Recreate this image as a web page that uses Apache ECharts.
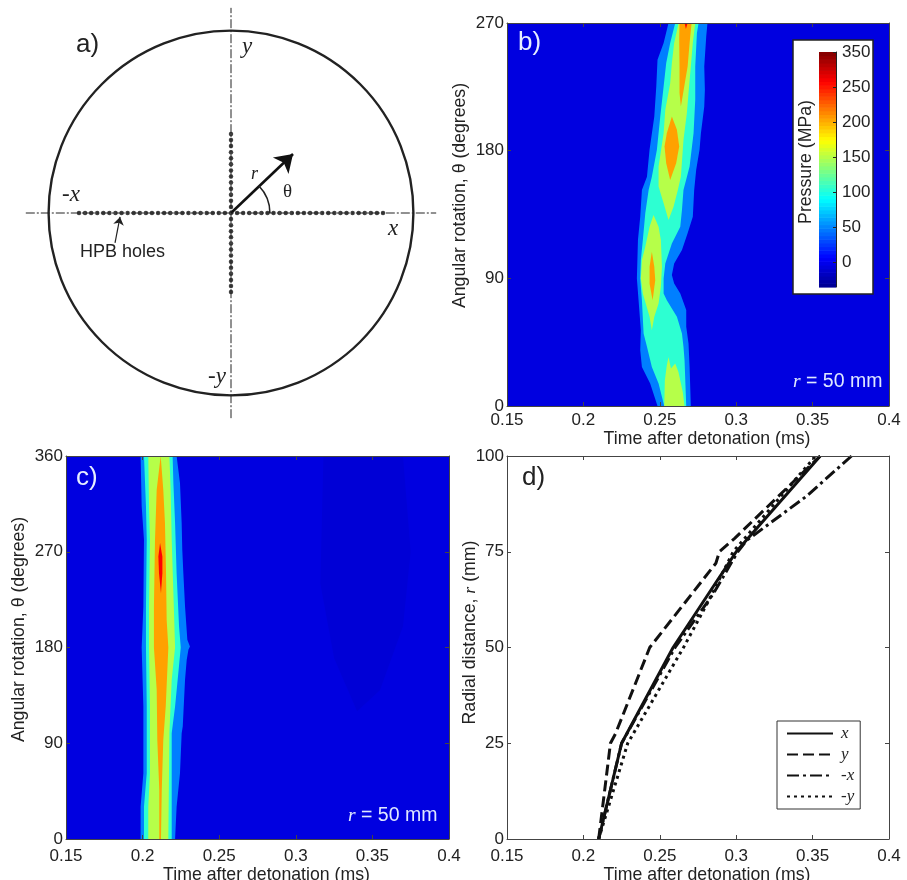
<!DOCTYPE html>
<html><head><meta charset="utf-8">
<style>html,body{margin:0;padding:0;background:#fff}#c{width:907px;height:880px}</style>
<script src="https://cdn.jsdelivr.net/npm/echarts@6/dist/echarts.min.js"></script>
</head><body><div id="c"></div>
<script>
// ---------- Panel a: test-plate schematic (mm) ----------
const plateRadius = 120;
const crossReach = 135;
const xHoles = [4,8,12,16,20,24,28,32,36,40,44,48,52,56,60,64,68,72,76,80,84,88,92,96,100];
const yHoles = [4,8,12,16,20,24,28,32,36,40,44,48,52];
const radiusArrow = [[0,0],[40.8,38.8]];
const holesArrow = [[-76.3,-19.7],[-73,-2.6]];
const thetaArc = [[0,0,25.6,0,44]];

// ---------- Panels b, c: pressure contours, [time ms, theta deg] ----------
const timeTicks = ['0.15','0.2','0.25','0.3','0.35','0.4'];
const levelBackground = -5.5, levelDark = -9, level50 = 48, level100 = 105, level150 = 150, level200 = 205, level250 = 258;

const bField = [[0.15,0],[0.4,0],[0.4,270],[0.15,270]];
const bBand50 = [[.2812,270],[.2804,260.6],[.2791,239.4],[.2795,222.9],[.2791,211.2],[.2769,192.3],[.276,180.6],[.2738,166.4],[.2725,152.3],[.2716,133.5],[.2682,121.7],[.2645,109.9],[.2594,100.5],[.2579,92.3],[.2594,86.4],[.2634,79.3],[.2673,67.6],[.2673,55.8],[.2688,44],[.2695,27.5],[.2703,0],[.2485,0],[.2437,15.8],[.2383,27.5],[.2372,39.3],[.2376,53.4],[.2361,74.6],[.235,89.9],[.2357,117],[.2372,133.5],[.2383,152.3],[.2416,161.7],[.2433,180.6],[.2464,204.1],[.2477,225.3],[.2485,244.1],[.2525,255.9],[.2557,270]];
const bBand100 = [[.2754,270],[.2743,262.9],[.2732,239.4],[.2732,215.9],[.2721,192.3],[.2695,168.8],[.2655,152.3],[.2645,138.2],[.2634,126.4],[.2579,114.6],[.2536,100.5],[.2525,89.9],[.2525,79.3],[.2546,74.6],[.2612,62.9],[.2645,51.1],[.2655,41.7],[.2662,32.2],[.2673,0],[.2529,0],[.2492,15.8],[.2448,27.5],[.2416,41.7],[.2394,51.1],[.2383,74.6],[.2372,89.9],[.2376,102.9],[.2389,117],[.2405,135.8],[.2427,152.3],[.2448,161.7],[.2481,180.6],[.2503,204.1],[.2525,225.3],[.2542,241.8],[.2568,255.9],[.2601,270]];
const bBand150Top = [[.2732,270],[.2716,255.9],[.2703,239.4],[.2688,220.6],[.2677,206.4],[.2655,187.6],[.2638,161.7],[.2618,152.3],[.259,140.5],[.2557,131.1],[.2525,142.9],[.2492,154.7],[.2492,168.8],[.2525,192.3],[.2536,208.8],[.2568,227.6],[.2579,241.8],[.2594,255.9],[.2623,270]];
const bBand150Mid = [[.2459,134.6],[.2492,126.4],[.2507,117],[.2514,98.2],[.2507,84],[.2492,72.3],[.2464,62.9],[.2448,53.4],[.2433,62.9],[.2389,79.3],[.2376,89.9],[.2383,102.9],[.2405,112.3],[.2433,126.4]];
const bBand150Low = [[.2529,0],[.2533,18],[.2545,28],[.2557,34.6],[.2573,26.4],[.2601,30],[.2622,24],[.265,10],[.2662,0]];
const bBand200Top = [[.2629,270],[.2708,270],[.2695,255.9],[.2682,239.4],[.266,225.3],[.2638,211.2],[.2629,220.6],[.2629,239.4],[.2627,258.2]];
const bBand200Mid = [[.2579,204.1],[.2612,194.7],[.2627,182.9],[.2607,171.1],[.2568,159.4],[.2542,171.1],[.2531,182.9],[.2546,192.3]];
const bBand200Low = [[.2448,108.8],[.2464,98.2],[.247,88.7],[.2453,74.6],[.2433,86.4],[.2433,98.2]];
const bBand250 = [[.2662,270],[.2682,270],[.2671,265.8]];

const cField = [[0.15,0],[0.4,0],[0.4,360],[0.15,360]];
const cDark = [[.318,360],[.37,360],[.375,270],[.37,200],[.355,140],[.34,120],[.325,170],[.316,240]];
const cBand50 = [[.2222,360],[.2244,334.6],[.2255,297],[.2259,271.9],[.2266,249.9],[.2277,218.6],[.2292,187.2],[.2309,181],[.2299,178],[.2288,168.4],[.2277,149.6],[.2262,105.7],[.2255,99.4],[.2244,61.8],[.2222,30.4],[.2212,0],[.1987,0],[.1987,30.4],[.2005,61.8],[.2005,124.5],[.1994,180],[.2005,218.6],[.2009,281.3],[.1994,312.7],[.1987,360]];
const cBand100 = [[.2196,360],[.2201,334.6],[.2212,297],[.2222,249.9],[.2238,199.8],[.2249,180],[.2233,155.9],[.2212,124.5],[.219,99.4],[.219,0],[.2009,0],[.2009,30.4],[.2027,61.8],[.2027,124.5],[.2022,180],[.2022,218.6],[.2027,281.3],[.2022,312.7],[.2009,360]];
const cBand150 = [[.2175,360],[.2183,328.3],[.219,281.3],[.2201,231],[.2212,180],[.219,149.6],[.2175,99.4],[.2168,0],[.2037,0],[.2037,30.4],[.2048,61.8],[.2048,124.5],[.2042,180],[.2042,218.6],[.2048,281.3],[.2042,312.7],[.2037,360]];
const cBand200 = [[.2118,360],[.2092,328.3],[.2081,281.3],[.2074,218.6],[.2074,180],[.2092,140.2],[.2096,93.1],[.2109,46.1],[.2109,0],[.212,0],[.2125,46.1],[.2135,93.1],[.2151,124.5],[.2168,180],[.2157,206],[.2153,249.9],[.2146,297],[.2135,328.3]];
const cBand250 = [[.2114,278.2],[.2129,265.6],[.2129,249.9],[.212,231.1],[.2107,249.9],[.2103,265.6]];

const bContours = [[levelBackground,bField],[level50,bBand50],[level100,bBand100],[level150,bBand150Top],[level150,bBand150Mid],[level150,bBand150Low],[level200,bBand200Top],[level200,bBand200Mid],[level200,bBand200Low],[level250,bBand250]];
const cContours = [[levelBackground,cField],[levelDark,cDark],[level50,cBand50],[level100,cBand100],[level150,cBand150],[level200,cBand200],[level250,cBand250]];

// ---------- Colour bar ----------
const barMin = -35.7, barMax = 300;
const barTickValues = [0,50,100,150,200,250,300];
const barTickLabels = ['0','50','100','150','200','250','350'];

// ---------- Panel d: arrival time [ms, r mm] ----------
const seriesX = [[.21,0],[.225,25],[.2587,50],[.3,75],[.355,100]];
const seriesY = [[.21,0],[.2177,25],[.221,27.5],[.2434,50],[.2867,72],[.289,75],[.299,78.5],[.355,100]];
const seriesNegX = [[.21,0],[.225,25],[.26,50],[.285,64],[.301,75],[.307,78],[.346,89.5],[.3755,100]];
const seriesNegY = [[.21,0],[.229,25],[.2655,50],[.2817,62],[.298,75],[.352,100]];

// ---------- helpers ----------
function lerp(a,b,t){return a+(b-a)*t}
function jet(f){
  const stops=[[0,[0,0,143]],[.125,[0,0,255]],[.375,[0,255,255]],[.625,[255,255,0]],[.875,[255,0,0]],[1,[128,0,0]]];
  f=Math.max(0,Math.min(1,f));
  for(let i=1;i<stops.length;i++){
    if(f<=stops[i][0]){
      const t=(f-stops[i-1][0])/(stops[i][0]-stops[i-1][0]);
      const c=stops[i-1][1].map((v,k)=>Math.round(lerp(v,stops[i][1][k],t)));
      return 'rgb('+c.join(',')+')';
    }
  }
}
const levelColor = v => jet((v-barMin)/(barMax-barMin));
const sans='"Liberation Sans",Arial,sans-serif', serif='"Liberation Serif","Times New Roman",serif';
const ink='#222';
const fontSize=17, nameSize=17.7;

function contourSeries(contours,gridAxis){
  return {type:'custom',xAxisIndex:gridAxis,yAxisIndex:gridAxis,silent:true,z:2,clip:true,
    data:contours.map((c,i)=>[i,c[0]]),
    renderItem:(p,api)=>{
      const item=contours[p.dataIndex];
      return {type:'polygon',shape:{points:item[1].map(q=>api.coord(q))},
        style:{fill:levelColor(item[0]),stroke:null}};
    }};
}

function mainX(g,name,extra){
  return {gridIndex:g,type:'value',min:.15,max:.4,interval:.05,z:4,position:'bottom',
    name,nameLocation:'middle',nameGap:24+extra,nameMoveOverlap:false,
    nameTextStyle:{color:ink,fontFamily:sans,fontSize:nameSize,padding:[0,0,0,18]},
    axisLine:{show:true,onZero:false,lineStyle:{color:'#444',width:1}},
    axisTick:{show:true,inside:true,length:4,lineStyle:{color:'#444'}},
    splitLine:{show:false},
    axisLabel:{color:ink,fontFamily:sans,fontSize,margin:6+extra,hideOverlap:false,showMinLabel:true,showMaxLabel:true,
      formatter:v=>timeTicks[Math.round((v-.15)/.05)]}};
}
function mirrorX(g){
  return {gridIndex:g,type:'value',min:.15,max:.4,interval:.05,z:4,position:'top',
    axisLine:{show:true,onZero:false,lineStyle:{color:'#444',width:1}},
    axisTick:{show:true,inside:true,length:4,lineStyle:{color:'#444'}},
    axisLabel:{show:false},splitLine:{show:false}};
}
function mainY(g,max,interval,name,gap,shift){
  return {gridIndex:g,type:'value',min:0,max,interval,z:4,position:'left',
    name,nameLocation:'middle',nameGap:gap,nameRotate:90,nameMoveOverlap:false,
    nameTextStyle:{color:ink,fontFamily:sans,fontSize:nameSize,padding:[0,0,0,shift],rich:{i:{fontFamily:serif,fontStyle:'italic',fontSize:nameSize,color:ink}}},
    axisLine:{show:true,onZero:false,lineStyle:{color:'#444',width:1}},
    axisTick:{show:true,inside:true,length:4,lineStyle:{color:'#444'}},
    splitLine:{show:false},
    axisLabel:{color:ink,fontFamily:sans,fontSize,margin:3,hideOverlap:false,showMinLabel:true,showMaxLabel:true}};
}
function mirrorY(g,max,interval){
  return {gridIndex:g,type:'value',min:0,max,interval,z:4,position:'right',
    axisLine:{show:true,onZero:false,lineStyle:{color:'#444',width:1}},
    axisTick:{show:true,inside:true,length:4,lineStyle:{color:'#444'}},
    axisLabel:{show:false},splitLine:{show:false}};
}
function label(text,x,y,font,fill,extra){
  return {type:'text',z:20,silent:true,style:Object.assign({text,x,y,font,fill:fill||ink,align:'left',verticalAlign:'middle'},extra||{})};
}
const rEq = {rich:{i:{fontFamily:serif,fontStyle:'italic',fontSize:19.5,fill:'#dfe8ff',color:'#dfe8ff'}}};

const option = {
  animation:false,backgroundColor:'#fff',
  grid:[
    {left:25.8,top:7.8,width:410.4,height:410.4,outerBoundsMode:'none'},
    {left:507,top:23,width:382,height:383,outerBoundsMode:'none'},
    {left:66,top:456,width:383,height:383,outerBoundsMode:'none'},
    {left:507,top:456,width:382,height:383,outerBoundsMode:'none'},
    {left:819,top:52,width:17,height:235,outerBoundsMode:'none'}
  ],
  xAxis:[
    {gridIndex:0,type:'value',min:-crossReach,max:crossReach,show:false},
    mainX(1,'Time after detonation (ms)',0),
    mainX(2,'Time after detonation (ms)',3),
    mainX(3,'Time after detonation (ms)',3),
    {gridIndex:4,type:'value',min:0,max:1,show:false},
    mirrorX(1),mirrorX(2),mirrorX(3)
  ],
  yAxis:[
    {gridIndex:0,type:'value',min:-crossReach,max:crossReach,show:false},
    mainY(1,270,90,'Angular rotation, θ (degrees)',38,38),
    mainY(2,360,90,'Angular rotation, θ (degrees)',38,36),
    mainY(3,100,25,'Radial distance, {i|r} (mm)',28,30),
    {gridIndex:4,type:'value',min:barMin,max:barMax,z:8,position:'right',
      axisLine:{show:true,onZero:false,lineStyle:{color:'#222',width:1}},
      axisTick:{show:true,inside:true,length:3,customValues:barTickValues,lineStyle:{color:'#222'}},
      splitLine:{show:false},
      axisLabel:{color:ink,fontFamily:sans,fontSize,margin:6,customValues:barTickValues,
        formatter:v=>barTickLabels[barTickValues.indexOf(v)]}},
    mirrorY(1,270,90),mirrorY(2,360,90),mirrorY(3,100,25)
  ],
  legend:{left:777,top:721,orient:'vertical',padding:[4,6,4,9],itemGap:4,itemWidth:46,itemHeight:14,
    itemStyle:{opacity:0},
    backgroundColor:'#fff',borderColor:'#333',borderWidth:1,
    textStyle:{fontFamily:serif,fontStyle:'italic',fontSize:17,color:ink,padding:[0,0,0,3]},
    data:['x','y','-x','-y']},
  series:[
    // panel a
    {type:'custom',xAxisIndex:0,yAxisIndex:0,silent:true,data:[[0,0,plateRadius]],
      renderItem:(p,api)=>{
        const c=api.coord([0,0]);const r=api.size([api.value(2),0])[0];
        return {type:'circle',shape:{cx:c[0],cy:c[1],r},style:{fill:null,stroke:'#222',lineWidth:2.4}};
      }},
    {type:'line',xAxisIndex:0,yAxisIndex:0,silent:true,symbol:'none',data:[[-crossReach,0],[crossReach,0]],lineStyle:{color:'#222',width:1,type:[9,2,2,2]}},
    {type:'line',xAxisIndex:0,yAxisIndex:0,silent:true,symbol:'none',data:[[0,-crossReach],[0,crossReach]],lineStyle:{color:'#222',width:1,type:[9,2,2,2]}},
    {type:'scatter',xAxisIndex:0,yAxisIndex:0,silent:true,symbolSize:4.5,itemStyle:{color:'#111'},
      data:[...xHoles.map(v=>[v,0]),...xHoles.map(v=>[-v,0]),...yHoles.map(v=>[0,v]),...yHoles.map(v=>[0,-v]),[0,0]]},
    {type:'lines',coordinateSystem:'cartesian2d',xAxisIndex:0,yAxisIndex:0,silent:true,symbol:['none','arrow'],symbolSize:17,
      lineStyle:{color:'#111',width:2.6,opacity:1},data:[{coords:radiusArrow}]},
    {type:'lines',coordinateSystem:'cartesian2d',xAxisIndex:0,yAxisIndex:0,silent:true,symbol:['none','arrow'],symbolSize:8,
      lineStyle:{color:'#222',width:1.2,opacity:1},data:[{coords:holesArrow}]},
    {type:'custom',xAxisIndex:0,yAxisIndex:0,silent:true,data:thetaArc,
      renderItem:(p,api)=>{
        const c=api.coord([api.value(0),api.value(1)]);const r=api.size([api.value(2),0])[0];
        return {type:'arc',shape:{cx:c[0],cy:c[1],r,startAngle:-api.value(4)*Math.PI/180,endAngle:-api.value(3)*Math.PI/180,clockwise:true},
          style:{fill:null,stroke:'#222',lineWidth:1.6}};
      }},
    // panels b, c
    contourSeries(bContours,1),
    contourSeries(cContours,2),
    // colour bar
    {type:'custom',xAxisIndex:4,yAxisIndex:4,silent:true,z:6,
      data:Array.from({length:64},(_,i)=>[0,lerp(barMin,barMax,i/64),lerp(barMin,barMax,(i+1)/64)]),
      renderItem:(p,api)=>{
        const a=api.coord([0,api.value(1)]),b=api.coord([1,api.value(2)]);
        return {type:'rect',shape:{x:a[0],y:b[1],width:b[0]-a[0],height:a[1]-b[1]+.6},
          style:{fill:jet((api.value(1)+api.value(2))/2/(barMax-barMin)-barMin/(barMax-barMin)),stroke:null}};
      }},
    // panel d
    {name:'x',type:'line',xAxisIndex:3,yAxisIndex:3,symbol:'none',data:seriesX,itemStyle:{color:'#111'},lineStyle:{color:'#111',width:3}},
    {name:'y',type:'line',xAxisIndex:3,yAxisIndex:3,symbol:'none',data:seriesY,itemStyle:{color:'#111'},lineStyle:{color:'#111',width:3,type:[11,5]}},
    {name:'-x',type:'line',xAxisIndex:3,yAxisIndex:3,symbol:'none',data:seriesNegX,itemStyle:{color:'#111'},lineStyle:{color:'#111',width:3,type:[12,4,3,4]}},
    {name:'-y',type:'line',xAxisIndex:3,yAxisIndex:3,symbol:'none',data:seriesNegY,itemStyle:{color:'#111'},lineStyle:{color:'#111',width:3,type:[3,4]}}
  ],
  graphic:{elements:[
    {type:'rect',z:5,silent:true,shape:{x:793,y:40,width:80,height:254},style:{fill:'#fff',stroke:'#222',lineWidth:1.5}},
    label('a)',76,45,'26px '+sans),
    label('b)',518,43,'26px '+sans,'#e6eeff'),
    label('c)',76,478,'26px '+sans,'#e6eeff'),
    label('d)',522,478,'26px '+sans),
    label('y',242,47,'italic 23px '+serif),
    label('-x',62,195,'italic 23px '+serif),
    label('x',388,229,'italic 23px '+serif),
    label('-y',208,377,'italic 23px '+serif),
    label('r',251,174,'italic 18px '+serif),
    label('θ',283,192,'19px '+serif),
    label('HPB holes',80,252,'18px '+sans),
    label('{i|r} = 50 mm',793,382,'19.5px '+sans,'#dfe8ff',rEq),
    label('{i|r} = 50 mm',348,816,'19.5px '+sans,'#dfe8ff',rEq),
    {type:'text',z:20,silent:true,rotation:Math.PI/2,x:806,y:162,
      style:{text:'Pressure (MPa)',x:0,y:0,font:'17.7px '+sans,fill:ink,align:'center',verticalAlign:'middle'}}
  ]}
};
const chart=echarts.init(document.getElementById('c'),null,{renderer:'canvas'});
chart.setOption(option);
</script></body></html>
